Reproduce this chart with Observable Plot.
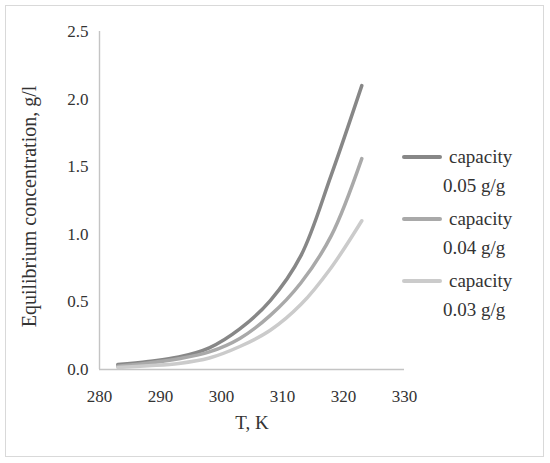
<!DOCTYPE html>
<html>
<head>
<meta charset="utf-8">
<script src="https://cdn.jsdelivr.net/npm/d3@7"></script>
<script src="https://cdn.jsdelivr.net/npm/@observablehq/plot@0.6"></script>
<style>
  html, body { margin: 0; padding: 0; background: #fff; }
  #wrap { position: relative; width: 550px; height: 463px; font-family: "Liberation Serif", "DejaVu Serif", serif; color: #333; }
  #border { position: absolute; left: 5px; top: 5px; width: 537px; height: 450px; border: 1.5px solid #d9d9d9; }
  #chart { position: absolute; left: 0; top: 0; }
  .lg-line { position: absolute; height: 4px; border-radius: 2px; }
  .lg-text { position: absolute; font-family: "Liberation Serif", "DejaVu Serif", serif; font-size: 19px; line-height: 22px; white-space: nowrap; color: #333; }
</style>
</head>
<body>
<div id="wrap">
  <div id="border"></div>
  <div id="chart"></div>
</div>
<script>
// Data
const temps   = [283, 288, 293, 298, 303, 308, 313, 318, 323];
const cap005  = [0.037, 0.060, 0.092, 0.16, 0.30, 0.51, 0.84, 1.44, 2.10];
const cap004  = [0.025, 0.048, 0.080, 0.13, 0.23, 0.40, 0.64, 0.99, 1.56];
const cap003  = [0.015, 0.028, 0.045, 0.085, 0.17, 0.29, 0.48, 0.755, 1.10];
const seriesNames  = ["capacity 0.05 g/g", "capacity 0.04 g/g", "capacity 0.03 g/g"];
const legendLine1  = ["capacity", "capacity", "capacity"];
const legendLine2  = ["0.05 g/g", "0.04 g/g", "0.03 g/g"];
const seriesColors = ["#878787", "#a9a9a9", "#cbcbcb"];
const xTicks = [280, 290, 300, 310, 320, 330];
const yTicks = [0, 0.5, 1.0, 1.5, 2.0, 2.5];
const xTitle = "T, K";
const yTitle = "Equilibrium concentration, g/l";

const seriesValues = [cap005, cap004, cap003];
const rows = [];
seriesValues.forEach((vals, s) => {
  vals.forEach((v, i) => rows.push({T: temps[i], v, series: seriesNames[s]}));
});

const axisColor = "#c4c4c4";
const serif = "'Liberation Serif', 'DejaVu Serif', serif";

const chart = Plot.plot({
  width: 550,
  height: 463,
  marginLeft: 99,
  marginRight: 146,
  marginTop: 31,
  marginBottom: 94,
  style: {fontFamily: serif, fontSize: "17px", color: "#333", background: "transparent"},
  x: {domain: [280, 330]},
  y: {domain: [0, 2.5]},
  color: {domain: seriesNames, range: seriesColors},
  marks: [
    Plot.ruleY([0], {stroke: axisColor, strokeWidth: 1.4}),
    Plot.ruleX([280], {stroke: axisColor, strokeWidth: 1.4}),
    Plot.axisX({ticks: xTicks, tickSize: 0, tickPadding: 20, tickFormat: d => String(d), label: null, fontSize: 17, fontFamily: serif, fill: "#333"}),
    Plot.axisY({ticks: yTicks, tickSize: 0, tickPadding: 11, tickFormat: d => d.toFixed(1), label: null, fontSize: 17, fontFamily: serif, fill: "#333"}),
    Plot.line(rows, {x: "T", y: "v", z: "series", stroke: "series", curve: "catmull-rom", strokeWidth: 3.5, strokeLinecap: "round", strokeLinejoin: "round"}),
    Plot.text([xTitle], {frameAnchor: "bottom", dy: 59, fontSize: 19, fontFamily: serif, fill: "#333"}),
    Plot.text([yTitle], {frameAnchor: "left", textAnchor: "middle", dx: -70, dy: 6, rotate: -90, fontSize: 20, fontFamily: serif, fill: "#333"})
  ]
});
document.getElementById("chart").appendChild(chart);

// Legend (right side)
const wrap = document.getElementById("wrap");
seriesNames.forEach((name, i) => {
  const yc = 157 + 62 * i;
  const ln = document.createElement("div");
  ln.className = "lg-line";
  ln.style.left = "402px";
  ln.style.top = (yc - 2) + "px";
  ln.style.width = "40px";
  ln.style.background = seriesColors[i];
  wrap.appendChild(ln);
  const t1 = document.createElement("div");
  t1.className = "lg-text";
  t1.style.left = "449px";
  t1.style.top = (yc - 11) + "px";
  t1.textContent = legendLine1[i];
  wrap.appendChild(t1);
  const t2 = document.createElement("div");
  t2.className = "lg-text";
  t2.style.left = "443px";
  t2.style.top = (yc + 18) + "px";
  t2.textContent = legendLine2[i];
  wrap.appendChild(t2);
});
</script>
</body>
</html>
